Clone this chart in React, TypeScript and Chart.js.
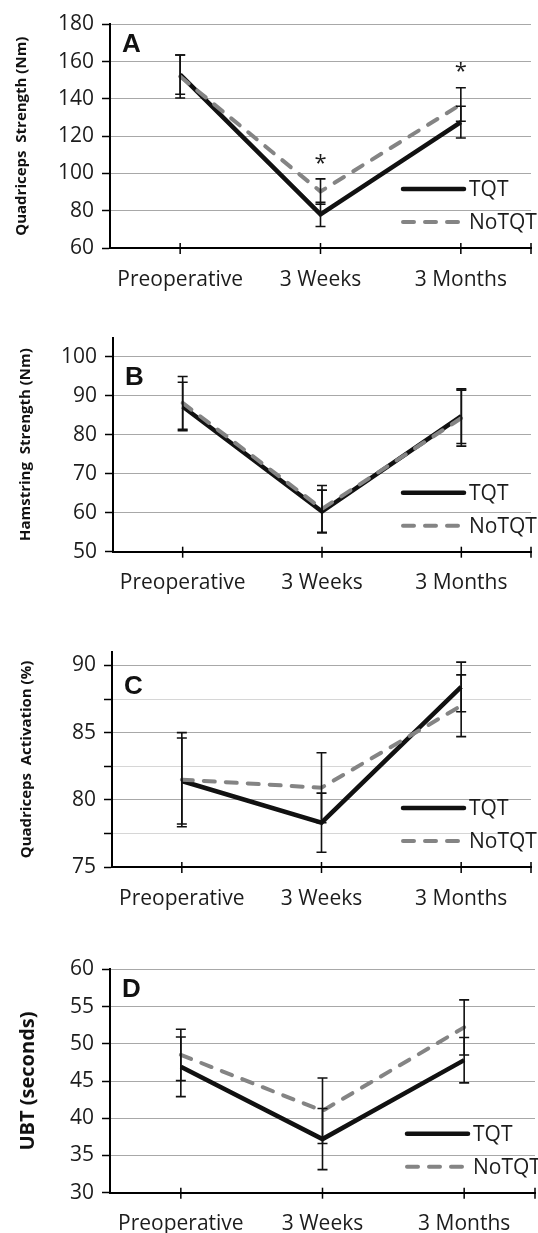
import React, { useEffect, useRef } from 'react';
import { Chart, registerables } from 'chart.js';

Chart.register(...registerables);

// ---------- data ----------
const categories = ['Preoperative', '3 Weeks', '3 Months'];
const seriesNames = ['TQT', 'NoTQT'];

// A: Quadriceps strength (Nm)
const quadStrengthTQT = [153, 78, 127.5];
const quadStrengthTQTSD = [10.5, 6.5, 8.5];
const quadStrengthNoTQT = [152, 90.3, 137];
const quadStrengthNoTQTSD = [11.5, 6.8, 9];
const quadStrengthSignif = ['', '*', '*'];
const quadStrengthRange = [60, 180];
const quadStrengthStep = 20;

// B: Hamstring strength (Nm)
const hamStrengthTQT = [87.3, 60.3, 84.8];
const hamStrengthTQTSD = [6.2, 5.5, 7.0];
const hamStrengthNoTQT = [88.2, 61, 84.3];
const hamStrengthNoTQTSD = [6.8, 6, 7.2];
const hamStrengthSignif = ['', '', ''];
const hamStrengthRange = [50, 105];
const hamStrengthStep = 10;

// C: Quadriceps activation (%)
const quadActTQT = [81.4, 78.3, 88.4];
const quadActTQTSD = [3.2, 2.2, 1.85];
const quadActNoTQT = [81.5, 80.9, 87.0];
const quadActNoTQTSD = [3.5, 2.6, 2.3];
const quadActSignif = ['', '', ''];
const quadActRange = [75, 91];
const quadActStep = 2.5;
const quadActLabelStep = 5;

// D: UBT (seconds)
const ubtTQT = [46.9, 37.2, 47.8];
const ubtTQTSD = [4.0, 4.1, 3.05];
const ubtNoTQT = [48.5, 41.0, 52.2];
const ubtNoTQTSD = [3.45, 4.4, 3.7];
const ubtSignif = ['', '', ''];
const ubtRange = [30, 60];
const ubtStep = 5;

// ---------- styling / layout ----------
const FONT = "'Open Sans', 'Noto Sans', sans-serif";
const TICK_SIZE = 21;
const TQT_COLOR = '#111111';
const NOTQT_COLOR = '#848484';
const GRID_COLOR = '#a8a8a8';
const MINOR_GRID_COLOR = '#d6d6d6';
const TEXT_COLOR = '#1c1c1c';

type Panel = {
  letter: string;
  yTitle: string;
  titleSize: number;
  titleCenterX: number;
  range: number[];
  step: number;
  labelStep: number;
  tqt: number[];
  tqtSD: number[];
  notqt: number[];
  notqtSD: number[];
  signif: string[];
  canvasTop: number;
  canvasHeight: number;
  left: number;
  right: number;
  top: number;
  bottom: number;
};

const panels: Panel[] = [
  {
    letter: 'A', yTitle: 'Quadriceps  Strength (Nm)', titleSize: 15, titleCenterX: 22,
    range: quadStrengthRange, step: quadStrengthStep, labelStep: quadStrengthStep,
    tqt: quadStrengthTQT, tqtSD: quadStrengthTQTSD, notqt: quadStrengthNoTQT, notqtSD: quadStrengthNoTQTSD,
    signif: quadStrengthSignif,
    canvasTop: 0, canvasHeight: 310, left: 110, right: 531, top: 24.3, bottom: 248,
  },
  {
    letter: 'B', yTitle: 'Hamstring  Strength (Nm)', titleSize: 15, titleCenterX: 25.5,
    range: hamStrengthRange, step: hamStrengthStep, labelStep: hamStrengthStep,
    tqt: hamStrengthTQT, tqtSD: hamStrengthTQTSD, notqt: hamStrengthNoTQT, notqtSD: hamStrengthNoTQTSD,
    signif: hamStrengthSignif,
    canvasTop: 300, canvasHeight: 320, left: 113, right: 531, top: 337.5, bottom: 551.7,
  },
  {
    letter: 'C', yTitle: 'Quadriceps  Activation (%)', titleSize: 15, titleCenterX: 27,
    range: quadActRange, step: quadActStep, labelStep: quadActLabelStep,
    tqt: quadActTQT, tqtSD: quadActTQTSD, notqt: quadActNoTQT, notqtSD: quadActNoTQTSD,
    signif: quadActSignif,
    canvasTop: 610, canvasHeight: 320, left: 112, right: 531, top: 652, bottom: 867,
  },
  {
    letter: 'D', yTitle: 'UBT (seconds)', titleSize: 20, titleCenterX: 28,
    range: ubtRange, step: ubtStep, labelStep: ubtStep,
    tqt: ubtTQT, tqtSD: ubtTQTSD, notqt: ubtNoTQT, notqtSD: ubtNoTQTSD,
    signif: ubtSignif,
    canvasTop: 910, canvasHeight: 323, left: 110, right: 535, top: 969.3, bottom: 1192.7,
  },
];

const isMultiple = (v: number, s: number) => Math.abs(v / s - Math.round(v / s)) < 1e-6;

const decorPlugin = {
  id: 'decor',
  afterDatasetsDraw(chart: any, _args: any, opts: any) {
    const ctx: CanvasRenderingContext2D = chart.ctx;
    const xs = chart.scales.x;
    const ys = chart.scales.y;
    const ca = chart.chartArea;
    ctx.save();

    // x-axis tick marks crossing the axis
    ctx.strokeStyle = '#000';
    ctx.lineWidth = 1.5;
    const tickXs: number[] = categories.map((_, i) => xs.getPixelForValue(i));
    tickXs.push(ca.right);
    tickXs.forEach((px) => {
      ctx.beginPath();
      ctx.moveTo(px, ca.bottom - 5);
      ctx.lineTo(px, ca.bottom + 6);
      ctx.stroke();
    });

    // error bars
    ctx.strokeStyle = '#111';
    ctx.lineWidth = 1.6;
    chart.data.datasets.forEach((ds: any) => {
      ds.data.forEach((v: number, i: number) => {
        const e = ds.errors[i];
        const px = xs.getPixelForValue(i);
        const pt = ys.getPixelForValue(v + e);
        const pb = ys.getPixelForValue(v - e);
        ctx.beginPath();
        ctx.moveTo(px, pt);
        ctx.lineTo(px, pb);
        ctx.moveTo(px - 5, pt);
        ctx.lineTo(px + 5, pt);
        ctx.moveTo(px - 5, pb);
        ctx.lineTo(px + 5, pb);
        ctx.stroke();
      });
    });

    // significance asterisks
    ctx.fillStyle = TEXT_COLOR;
    ctx.font = `22px ${FONT}`;
    ctx.textAlign = 'center';
    ctx.textBaseline = 'alphabetic';
    (opts.signif as string[]).forEach((s, i) => {
      if (!s) return;
      const tops = chart.data.datasets.map((ds: any) => ds.data[i] + ds.errors[i]);
      const py = ys.getPixelForValue(Math.max(...tops));
      ctx.fillText(s, xs.getPixelForValue(i), py - 22 + 12.8);
    });

    // panel letter
    const labelTicks = ys.ticks.filter((t: any) => isMultiple(t.value, opts.labelStep));
    const topLabelled = labelTicks[labelTicks.length - 1].value;
    ctx.font = `bold 26px 'Liberation Sans', Arial, sans-serif`;
    ctx.textAlign = 'left';
    ctx.textBaseline = 'top';
    ctx.fillStyle = '#111';
    ctx.fillText(opts.letter, ca.left + 12, ys.getPixelForValue(topLabelled) + 8);

    // legend
    const rows = [ca.bottom - 59, ca.bottom - 26];
    chart.data.datasets.slice().reverse().forEach((ds: any, k: number) => {
      const y = rows[k];
      ctx.save();
      ctx.strokeStyle = ds.borderColor;
      ctx.lineWidth = ds.borderWidth;
      ctx.lineCap = 'round';
      ctx.setLineDash(ds.borderDash || []);
      ctx.beginPath();
      ctx.moveTo(ca.right - 128, y);
      ctx.lineTo(ca.right - 67, y);
      ctx.stroke();
      ctx.restore();
      ctx.font = `${TICK_SIZE}px ${FONT}`;
      ctx.fillStyle = TEXT_COLOR;
      ctx.textAlign = 'left';
      ctx.textBaseline = 'middle';
      ctx.fillText(ds.label, ca.right - 62, y + 1);
    });

    ctx.restore();
  },
};

function PanelChart({ p }: { p: Panel }) {
  const ref = useRef<HTMLCanvasElement | null>(null);
  useEffect(() => {
    if (!ref.current) return;
    const xAxisHeight = p.canvasTop + p.canvasHeight - p.bottom;
    const chart = new Chart(ref.current, {
      type: 'line',
      data: {
        labels: categories,
        datasets: [
          {
            label: seriesNames[1],
            data: p.notqt,
            errors: p.notqtSD,
            borderColor: NOTQT_COLOR,
            borderWidth: 4,
            borderDash: [11, 11],
            borderCapStyle: 'round',
            pointRadius: 0,
            tension: 0,
            fill: false,
          } as any,
          {
            label: seriesNames[0],
            data: p.tqt,
            errors: p.tqtSD,
            borderColor: TQT_COLOR,
            borderWidth: 4.5,
            pointRadius: 0,
            tension: 0,
            fill: false,
          } as any,
        ],
      },
      options: {
        animation: false,
        responsive: false,
        events: [],
        layout: {
          padding: { top: p.top - p.canvasTop, right: 538 - p.right, left: 0, bottom: 0 },
        },
        plugins: {
          legend: { display: false },
          tooltip: { enabled: false },
          decor: { letter: p.letter, signif: p.signif, labelStep: p.labelStep },
        } as any,
        scales: {
          x: {
            type: 'category',
            offset: true,
            grid: { display: false },
            border: { display: true, color: '#000', width: 2 },
            ticks: {
              color: TEXT_COLOR,
              font: { family: FONT, size: TICK_SIZE },
              padding: 11,
              maxRotation: 0,
              autoSkip: false,
            },
            afterFit: (s: any) => { s.height = xAxisHeight; },
          },
          y: {
            type: 'linear',
            min: p.range[0],
            max: p.range[1],
            grid: {
              color: (c: any) => (c.tick && !isMultiple(c.tick.value, p.labelStep) ? MINOR_GRID_COLOR : GRID_COLOR),
              tickColor: '#000',
              tickLength: 8,
              tickWidth: 1.5,
              lineWidth: 1,
            },
            border: { display: true, color: '#000', width: 2 },
            ticks: {
              stepSize: p.step,
              includeBounds: false,
              color: TEXT_COLOR,
              font: { family: FONT, size: TICK_SIZE },
              padding: 8,
              callback: (v: any) => (isMultiple(Number(v), p.labelStep) ? String(v) : ''),
            },
            title: {
              display: true,
              text: p.yTitle,
              color: '#111',
              font: { family: FONT, size: p.titleSize, weight: 'bold' },
              padding: { top: p.titleCenterX - (p.titleSize * 1.2) / 2, bottom: 0 },
            },
            afterFit: (s: any) => { s.width = p.left; },
          },
        },
      },
      plugins: [decorPlugin],
    } as any);
    return () => chart.destroy();
  }, [p]);
  return (
    <canvas
      ref={ref}
      width={538}
      height={p.canvasHeight}
      style={{ position: 'absolute', left: 0, top: p.canvasTop, width: 538, height: p.canvasHeight, display: 'block' }}
    />
  );
}

export default function App() {
  return (
    <div style={{ position: 'absolute', left: 0, top: 0, width: 538, height: 1233, background: '#fff', overflow: 'hidden' }}>
      {panels.map((p) => (
        <PanelChart key={p.letter} p={p} />
      ))}
    </div>
  );
}
